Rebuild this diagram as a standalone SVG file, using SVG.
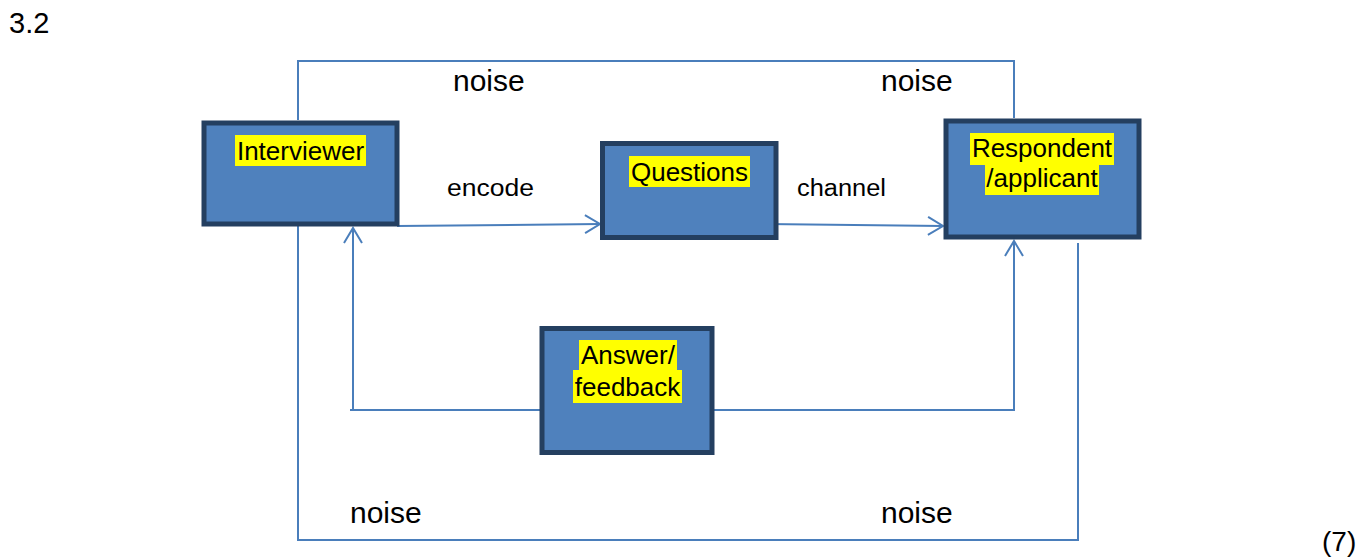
<svg xmlns="http://www.w3.org/2000/svg" width="1363" height="559" viewBox="0 0 1363 559">
  <style>
    .box { fill: #4F81BD; stroke: #243F60; stroke-width: 5; }
    .hl { fill: #FFFF00; }
    .lbl { font-family: "Liberation Sans", Arial, sans-serif; font-size: 26px; fill: #000; text-anchor: middle; }
    .txt { font-family: "Liberation Sans", Arial, sans-serif; fill: #000; }
    .wire { fill: none; stroke: #4A7EBB; stroke-width: 2; }
  </style>
  <defs>
    <marker id="open" markerUnits="userSpaceOnUse" markerWidth="24" markerHeight="24" viewBox="-18 -12 20 24" refX="0" refY="0" orient="auto">
      <path d="M -15 -9 L 0 0 L -15 9" fill="none" stroke="#4A7EBB" stroke-width="2"/>
    </marker>
  </defs>

  <rect width="1363" height="559" fill="#FFFFFF"/>

  <!-- question number and mark allocation -->
  <text class="txt" x="9" y="33" font-size="29">3.2</text>
  <text class="txt" x="1322" y="551" font-size="28">(7)</text>

  <!-- connectors -->
  <g id="connectors">
    <!-- noise loop over the top -->
    <polyline class="wire" points="298,120 298,61 1014,61 1014,118"/>
    <!-- noise loop underneath -->
    <polyline class="wire" points="298,226 298,540 1078,540 1078,243"/>
    <!-- encode -->
    <line class="wire" x1="397" y1="226" x2="600" y2="224" marker-end="url(#open)"/>
    <!-- channel -->
    <line class="wire" x1="765" y1="224" x2="943" y2="226" marker-end="url(#open)"/>
    <!-- feedback to interviewer -->
    <polyline class="wire" points="541,410 350,410"/>
    <line class="wire" x1="353" y1="410" x2="353" y2="228" marker-end="url(#open)"/>
    <!-- feedback to respondent -->
    <polyline class="wire" points="713,410 1014,410 1014,241" marker-end="url(#open)"/>
  </g>

  <!-- nodes -->
  <g id="interviewer">
    <rect class="box" x="204" y="123" width="193" height="101"/>
    <rect class="hl" x="235" y="135" width="131" height="31"/>
    <text class="lbl" x="300.5" y="160">Interviewer</text>
  </g>

  <g id="questions">
    <rect class="box" x="602.5" y="143.5" width="173.5" height="94"/>
    <rect class="hl" x="629" y="156" width="121" height="31"/>
    <text class="lbl" x="689.5" y="180.5">Questions</text>
  </g>

  <g id="respondent">
    <rect class="box" x="946" y="121" width="193" height="116"/>
    <rect class="hl" x="970" y="133" width="144" height="32"/>
    <rect class="hl" x="985" y="164" width="114" height="31"/>
    <text class="lbl" x="1042" y="157">Respondent</text>
    <text class="lbl" x="1042" y="187">/applicant</text>
  </g>

  <g id="answer">
    <rect class="box" x="542" y="328.5" width="170" height="124"/>
    <rect class="hl" x="579" y="340" width="98" height="31"/>
    <rect class="hl" x="573" y="370" width="109" height="33"/>
    <text class="lbl" x="628" y="364">Answer/</text>
    <text class="lbl" x="627.5" y="396">feedback</text>
  </g>

  <!-- connector labels -->
  <g id="labels">
    <text class="txt" x="447" y="196" font-size="23" textLength="87" lengthAdjust="spacingAndGlyphs">encode</text>
    <text class="txt" x="797" y="196" font-size="23" textLength="89" lengthAdjust="spacingAndGlyphs">channel</text>
    <text class="txt" x="453" y="91" font-size="30">noise</text>
    <text class="txt" x="881" y="91" font-size="30">noise</text>
    <text class="txt" x="350" y="523" font-size="30">noise</text>
    <text class="txt" x="881" y="523" font-size="30">noise</text>
  </g>
</svg>
